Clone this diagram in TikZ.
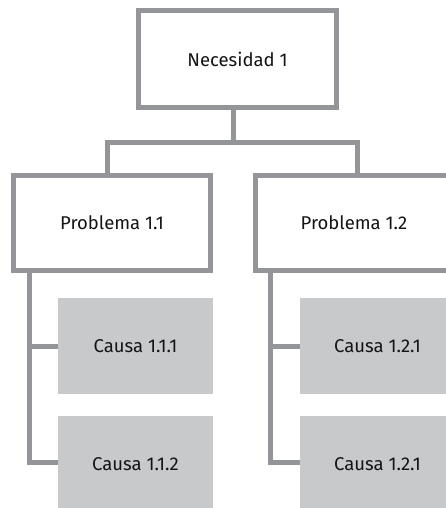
\documentclass[tikz,border=0pt]{standalone}
\usepackage{fontspec}
\setmainfont{Fira Sans}
\definecolor{lineagris}{RGB}{148,149,153}
\definecolor{cajagris}{RGB}{200,201,203}
\definecolor{textogris}{RGB}{20,20,20}
\begin{document}
\begin{tikzpicture}[x=1pt, y=-1pt,
    caja/.style={draw=lineagris, line width=5pt, fill=white, rectangle,
        minimum width=197pt, minimum height=95pt, text=textogris,
        font=\fontsize{18.5}{22}\selectfont},
    causa/.style={fill=cajagris, rectangle, inner sep=0pt,
        minimum width=155pt, minimum height=96pt, text=textogris,
        font=\fontsize{18.5}{22}\selectfont},
    conector/.style={draw=lineagris, line width=5pt, line join=miter}]
    \useasboundingbox (0,0) rectangle (446,508);

    % --- Necesidad ---
    \node[caja, minimum height=97pt, minimum width=198pt] (nec) at (237.5, 59) {Necesidad 1};

    % --- Problemas ---
    \node[caja] (p11) at (112, 223) {Problema 1.1};
    \node[caja] (p12) at (354, 223) {Problema 1.2};

    % --- Causas ---
    \node[causa] (c111) at (135.5, 346) {Causa 1.1.1};
    \node[causa] (c112) at (135.5, 464) {Causa 1.1.2};
    \node[causa] (c121) at (377.5, 346) {Causa 1.2.1};
    \node[causa] (c122) at (377.5, 464) {Causa 1.2.1};

    % --- Conectores ---
    \coordinate (rama) at (233, 142);
    \draw[conector] ([xshift=-4.5pt]nec.south) -- (rama);
    \draw[conector] ([xshift=-5pt]p11.north) |- (rama) -| ([xshift=3pt]p12.north);

    \draw[conector] ([xshift=18.5pt]p11.south west) |- ([yshift=2pt]c112.west);
    \draw[conector] ([xshift=18.5pt]p11.south west) |- (c111.west);
    \draw[conector] ([xshift=17.5pt]p12.south west) |- ([yshift=2pt]c122.west);
    \draw[conector] ([xshift=17.5pt]p12.south west) |- (c121.west);
\end{tikzpicture}
\end{document}
